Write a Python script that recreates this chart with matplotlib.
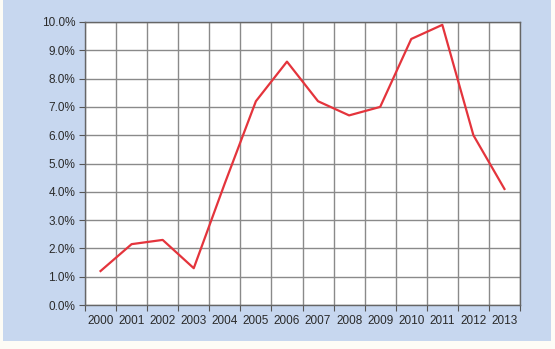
import matplotlib
matplotlib.use("Agg")
import matplotlib.pyplot as plt
from matplotlib.patches import Rectangle
from matplotlib.ticker import FixedLocator, NullFormatter

years = ["2000", "2001", "2002", "2003", "2004", "2005", "2006",
         "2007", "2008", "2009", "2010", "2011", "2012", "2013"]
rates = [1.2, 2.15, 2.3, 1.3, 4.3, 7.2, 8.6, 7.2, 6.7, 7.0, 9.4, 9.9, 6.0, 4.1]
y_ticks = [0, 1, 2, 3, 4, 5, 6, 7, 8, 9, 10]

plt.rcParams["font.family"] = ["Liberation Sans", "DejaVu Sans"]

fig = plt.figure(figsize=(5.55, 3.49), dpi=100, facecolor="#fdfcf6")

# blue panel behind the chart
fig.patches.append(Rectangle((3 / 555, 1 - 341 / 349), 548 / 555, 341 / 349,
                             transform=fig.transFigure, facecolor="#c7d7ef",
                             edgecolor="none", zorder=-10))

ax = fig.add_axes([85 / 555, 1 - 305 / 349, 435 / 555, 283 / 349])
ax.set_zorder(5)
ax.set_facecolor("white")

x = [i + 0.5 for i in range(len(years))]
ax.plot(x, rates, color="#e4343c", linewidth=1.6, zorder=3)

ax.set_xlim(0, len(years))
ax.set_ylim(0, 10)

# category axis: grid lines between categories, labels centred
ax.xaxis.set_major_locator(FixedLocator(range(len(years) + 1)))
ax.xaxis.set_major_formatter(NullFormatter())
ax.xaxis.set_minor_locator(FixedLocator(x))
ax.set_xticklabels(years, minor=True)
ax.tick_params(axis="x", which="minor", length=0, pad=7, labelsize=8.5, colors="#2a2a2a")
ax.tick_params(axis="x", which="major", length=4, color="#555555")

ax.set_yticks(y_ticks)
ax.set_yticklabels([f"{v:.1f}%" for v in y_ticks])
ax.tick_params(axis="y", length=4, pad=3, labelsize=8.5, colors="#2a2a2a", color="#555555")

ax.grid(True, which="major", color="#8a8a8a", linewidth=1.0)
for s in ax.spines.values():
    s.set_color("#666666")
    s.set_linewidth(1.0)

fig.savefig("out.png", dpi=100, facecolor=fig.get_facecolor())
